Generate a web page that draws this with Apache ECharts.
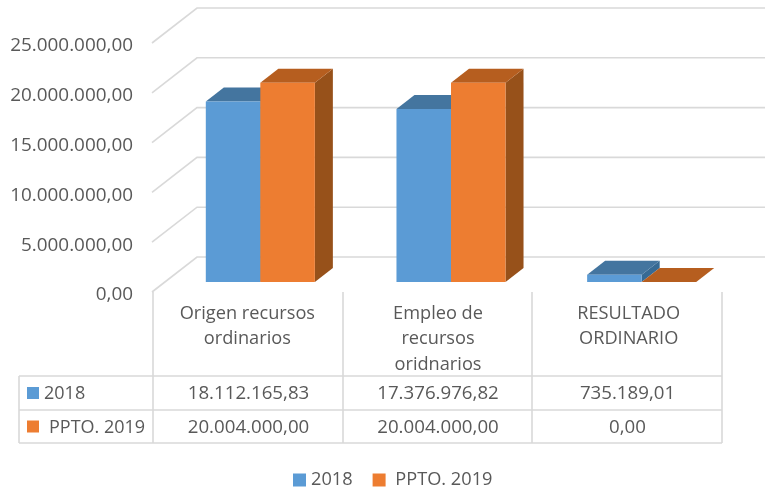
<!DOCTYPE html>
<html><head><meta charset="utf-8">
<script src="https://cdn.jsdelivr.net/npm/echarts@6/dist/echarts.min.js"></script>
<style>html,body{margin:0;padding:0;background:#fff}#c{width:765px;height:489px}</style>
</head><body><div id="c"></div>
<script>
const categories = ['Origen recursos\nordinarios', 'Empleo de\nrecursos\noridnarios', 'RESULTADO\nORDINARIO'];
const seriesNames = ['2018', 'PPTO. 2019'];
const values2018 = [18112165.83, 17376976.82, 735189.01];
const valuesPpto = [20004000, 20004000, 0];
const yTicks = [0, 5000000, 10000000, 15000000, 20000000, 25000000];

const FONT = '"Open Sans"', TXT = '#595959', LINE = '#d9d9d9', FS = 18;
const fmt = v => v.toFixed(2).replace('.', ',').replace(/\B(?=(\d{3})+(?!\d))(?=.*,)/g, '.');

// oblique projection of the 3D chart
const WALL = [45, -35], PLANE = [13, -10], DEPTH = [18, -14], BAR_RATIO = 0.286;
const palette = [
  {front: '#5b9bd5', top: '#44759f', side: '#376a94'},
  {front: '#ed7d31', top: '#b65e1f', side: '#97511a'}
];

function poly(points, fill) {
  return {type: 'polygon', shape: {points}, style: {fill, stroke: null}};
}
function barRenderer(s) {
  return function (params, api) {
    const top = api.coord([api.value(0), api.value(1)]);
    const base = api.coord([api.value(0), 0]);
    const w = api.size([1, 0])[0] * BAR_RATIO;
    const x0 = top[0] + PLANE[0] + (s === 0 ? -w : 0), x1 = x0 + w;
    const yt = top[1] + PLANE[1], yb = base[1] + PLANE[1];
    const dx = DEPTH[0], dy = DEPTH[1], c = palette[s];
    const kids = [];
    if (yb - yt > 0.01) kids.push(poly([[x1, yt], [x1 + dx, yt + dy], [x1 + dx, yb + dy], [x1, yb]], c.side));
    kids.push(poly([[x0, yt], [x1, yt], [x1 + dx, yt + dy], [x0 + dx, yt + dy]], c.top));
    if (yb - yt > 0.01) kids.push(poly([[x0, yt], [x1, yt], [x1, yb], [x0, yb]], c.front));
    return {type: 'group', children: kids};
  };
}
function gridRenderer(params, api) {
  const p = api.coord([0, api.value(0)]);
  const x = params.coordSys.x, bx = x + WALL[0], by = p[1] + WALL[1];
  return {type: 'polyline', shape: {points: [[x, p[1]], [bx, by], [api.getWidth(), by]]},
    style: {stroke: LINE, lineWidth: 1.6, fill: null}};
}

// data table, laid out beneath the category axis
const colX = [153, 343, 532, 722], tableLeft = 19, rowY = [376, 410, 443], axisY = 292;
const graphics = [];
const line = (x1, y1, x2, y2) => graphics.push({type: 'line', silent: true, z: 1,
  shape: {x1, y1, x2, y2}, style: {stroke: LINE, lineWidth: 1.6}});
rowY.forEach(y => line(tableLeft, y, colX[3], y));
line(tableLeft, rowY[0], tableLeft, rowY[2]);
colX.forEach(x => line(x, axisY, x, rowY[2]));
const text = (x, y, t, align, size) => graphics.push({type: 'text', silent: true, z: 2, x, y,
  style: {text: t, fill: TXT, font: size + 'px ' + FONT, textAlign: align, textVerticalAlign: 'middle'}});
[values2018, valuesPpto].forEach((vals, r) => {
  const cy = (rowY[r] + rowY[r + 1]) / 2 + 1;
  graphics.push({type: 'rect', silent: true, z: 2, shape: {x: 27, y: cy - 7, width: 12, height: 12},
    style: {fill: palette[r].front}});
  text(r === 0 ? 44 : 49, cy, seriesNames[r], 'left', FS);
  vals.forEach((v, i) => text((colX[i] + colX[i + 1]) / 2 + 0.5, cy, fmt(v), 'center', 18.7));
});

const chart = echarts.init(document.getElementById('c'), null, {renderer: 'canvas'});
chart.setOption({
  animation: false,
  backgroundColor: '#fff',
  textStyle: {fontFamily: FONT},
  grid: {left: 152, right: 41, top: 43, bottom: 197, containLabel: false},
  legend: {
    data: seriesNames, bottom: -5, left: 288, icon: 'rect', itemWidth: 13, itemHeight: 13, itemGap: 20,
    formatter: n => (n === seriesNames[1] ? ' ' + n : n),
    textStyle: {color: TXT, fontSize: 18.2, fontFamily: FONT}
  },
  xAxis: {
    type: 'category', data: categories,
    axisLine: {show: false}, axisTick: {show: false},
    axisLabel: {color: TXT, fontSize: 18.2, fontFamily: FONT, lineHeight: 25.5, margin: 9, interval: 0}
  },
  yAxis: {
    type: 'value', min: 0, max: 25000000, interval: 5000000,
    axisLine: {show: false}, axisTick: {show: false}, splitLine: {show: false},
    axisLabel: {color: TXT, fontSize: 18.9, fontFamily: FONT, margin: 19, verticalAlign: 'top', lineHeight: 6, formatter: fmt}
  },
  graphic: graphics,
  series: [
    {type: 'custom', name: 'grid', z: 1, renderItem: gridRenderer, silent: true,
     encode: {y: 0}, data: yTicks.map(v => [v])},
    {type: 'custom', name: seriesNames[0], z: 2, renderItem: barRenderer(0), itemStyle: {color: palette[0].front},
     encode: {x: 0, y: 1}, data: values2018.map((v, i) => [i, v])},
    {type: 'custom', name: seriesNames[1], z: 3, renderItem: barRenderer(1), itemStyle: {color: palette[1].front},
     encode: {x: 0, y: 1}, data: valuesPpto.map((v, i) => [i, v])}
  ]
});
</script></body></html>
